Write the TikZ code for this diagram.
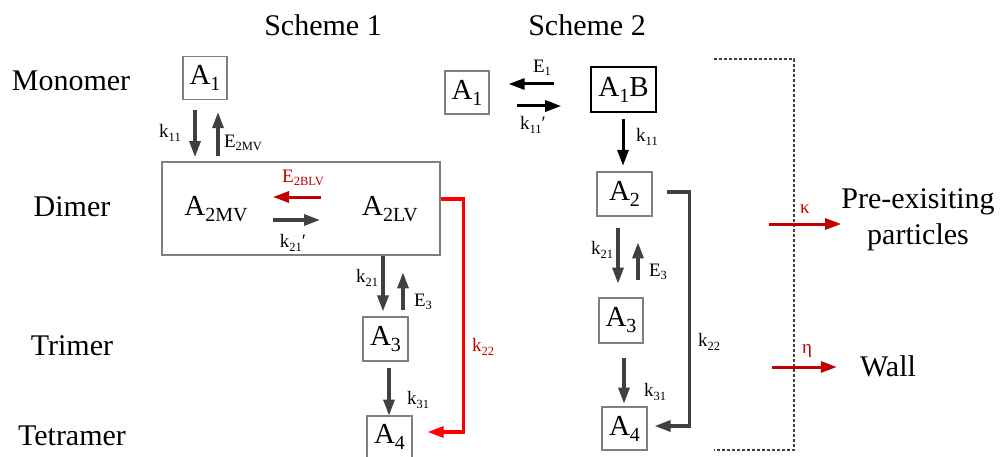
\documentclass[tikz,border=0pt]{standalone}
\usepackage{fontspec}
\setmainfont{Liberation Serif}
\usetikzlibrary{arrows.meta}

\definecolor{arrgray}{HTML}{404040}
\definecolor{boxgray}{HTML}{7F7F7F}
\definecolor{darkred}{HTML}{C00000}
\definecolor{brightred}{HTML}{FF0000}

% lowered subscripts for the species (big) and the rate labels (small)
\newcommand\bsub[1]{\raisebox{-6pt}{\fontsize{20}{20}\selectfont #1}}
\newcommand\ssub[1]{\raisebox{-3.5pt}{\fontsize{12.5}{12.5}\selectfont #1}}
% straight tick after a rate constant
\newcommand\tick{′}

\tikzset{
  big/.style={font=\fontsize{30}{36}\selectfont, inner sep=0pt},
  species/.style={draw=boxgray, line width=1.2pt, inner sep=0pt,
    font=\fontsize{29}{30}\selectfont},
  plain/.style={inner sep=0pt, font=\fontsize{29}{30}\selectfont},
  lab/.style={inner sep=0pt, font=\fontsize{19}{20}\selectfont},
  tip/.style={-{Triangle[length=16pt,width=11pt]}},
  flow/.style={tip, draw=arrgray, line width=3.2pt},
  bflow/.style={tip, draw=black, line width=3pt},
  rflow/.style={tip, draw=darkred, line width=3pt},
}

\begin{document}
\begin{tikzpicture}[x=1pt,y=-1pt]
\useasboundingbox (0,0) rectangle (1000,457);

% column headings and row labels
\node[big] (s1) at (323,25) {Scheme 1};
\node[big] (s2) at (587,25) {Scheme 2};
\node[big] (mono) at (71,81) {Monomer};
\node[big] (dimer) at (72,207) {Dimer};
\node[big] (trimer) at (72,346) {Trimer};
\node[big] (tetra) at (72,436) {Tetramer};

% ---------------- Scheme 1 ----------------
\node[species, minimum width=44pt, minimum height=43pt] (a1) at (205,78) {A\bsub{1}};
\node[draw=boxgray, line width=1.2pt, minimum width=278pt, minimum height=93pt, inner sep=0pt] (dim) at (301,208.5) {};
\node[plain] (a2mv) at (216,209) {A\bsub{2MV}};
\node[plain] (a2lv) at (390,209) {A\bsub{2LV}};
\node[species, minimum width=45pt, minimum height=44pt] (a3) at (385.5,339) {A\bsub{3}};
\node[species, minimum width=45pt, minimum height=42pt] (a4) at (389.5,437) {A\bsub{4}};

\draw[flow] ([xshift=-10pt,yshift=-10pt]a1.south) -- ++(0,47);
\draw[flow] ([xshift=13pt]dim.north -| a1.south) ++(0,-5) -- ([xshift=13pt,yshift=-12pt]a1.south);
\node[lab] (k11a) at (170,133) {k\ssub{11}};
\node[lab] (e2mv) at (243,143) {E\ssub{2MV}};

% exchange between the two dimer forms
\draw[rflow] ([xshift=20pt,yshift=11.5pt]dim.center) -- ++(-48,0);
\node[lab, text=darkred] (e2blv) at (303,178) {E\ssub{2BLV}};
\draw[flow] ([xshift=-28pt,yshift=-11.5pt]dim.center) -- ++(47,0);
\node[lab] (k21p) at (293,243) {k\ssub{21}\tick};

\draw[flow] (a3.north |- dim.south) ++(-2.5,0) -- ([xshift=-2.5pt,yshift=5pt]a3.north);
\draw[flow] ([xshift=17.5pt,yshift=6pt]a3.north) -- ++(0,-38);
\node[lab] (k21a) at (367,278) {k\ssub{21}};
\node[lab] (e3a) at (423,302) {E\ssub{3}};

\draw[flow] ([xshift=3.5pt,yshift=-6pt]a3.south) -- ++(0,48);
\node[lab] (k31a) at (418,400) {k\ssub{31}};

\draw[tip, draw=brightred, line width=3.2pt]
  ([yshift=9.5pt]dim.east) -- ++(23,0) |- ([xshift=15pt,yshift=5pt]a4.east);
\node[lab, text=darkred] (k22a) at (483,347) {k\ssub{22}};

% ---------------- Scheme 2 ----------------
\node[species, minimum width=44pt, minimum height=43pt] (b1) at (467,92.5) {A\bsub{1}};
\node[species, draw=black, line width=1.6pt, minimum width=65pt, minimum height=45pt] (b1b) at (623.5,89.5) {A\bsub{1}B};
\node[species, minimum width=55pt, minimum height=44pt] (b2) at (624.5,194) {A\bsub{2}};
\node[species, minimum width=44pt, minimum height=45pt] (b3) at (621,320.5) {A\bsub{3}};
\node[species, minimum width=45pt, minimum height=43pt] (b4) at (624.5,428.5) {A\bsub{4}};

\draw[bflow] ([xshift=-36pt,yshift=5.5pt]b1b.west) -- ([xshift=19pt,yshift=8.5pt]b1.east);
\draw[bflow] ([xshift=27pt,yshift=-13.5pt]b1.east) -- ([xshift=-29pt,yshift=-16.5pt]b1b.west);
\node[lab] (e1) at (542,68) {E\ssub{1}};
\node[lab] (k11p) at (533,125) {k\ssub{11}\tick};

\draw[bflow] ([xshift=-0.5pt,yshift=-6pt]b1b.south) -- ++(0,47);
\node[lab] (k11b) at (647,137) {k\ssub{11}};

\draw[flow] ([xshift=-6.5pt,yshift=-11pt]b2.south) -- ++(0,56);
\draw[flow] ([xshift=17pt,yshift=17pt]b3.north) -- ++(0,-38);
\node[lab] (k21b) at (602,250) {k\ssub{21}};
\node[lab] (e3b) at (658,272) {E\ssub{3}};

\draw[flow] ([xshift=3pt,yshift=-14pt]b3.south) -- ++(0,46);
\node[lab] (k31b) at (655,392) {k\ssub{31}};

\draw[flow] ([xshift=14pt,yshift=2pt]b2.east) -- ++(23,0) |- ([xshift=7pt,yshift=2.5pt]b4.east);
\node[lab] (k22b) at (709,342) {k\ssub{22}};

% ---------------- sinks ----------------
\draw[draw=arrgray, line width=1.4pt, dash pattern=on 3pt off 2pt]
  (714,59) -- (794,59) -- (794,450) -- (714,450);

\node[big, align=center] (pre) at (918,220) {Pre-exisiting\\particles};
\node[big] (wall) at (888,366) {Wall};
\coordinate (kstart) at (769,224);
\coordinate (estart) at (772,367);
\draw[rflow] (kstart) -- (kstart -| pre.west);
\draw[rflow] (estart) -- ([xshift=-23pt]estart -| wall.west);
\node[lab, text=darkred] (kappa) at (805,209) {κ};
\node[lab, text=darkred] (eta) at (807,351) {η};

\end{tikzpicture}
\end{document}
